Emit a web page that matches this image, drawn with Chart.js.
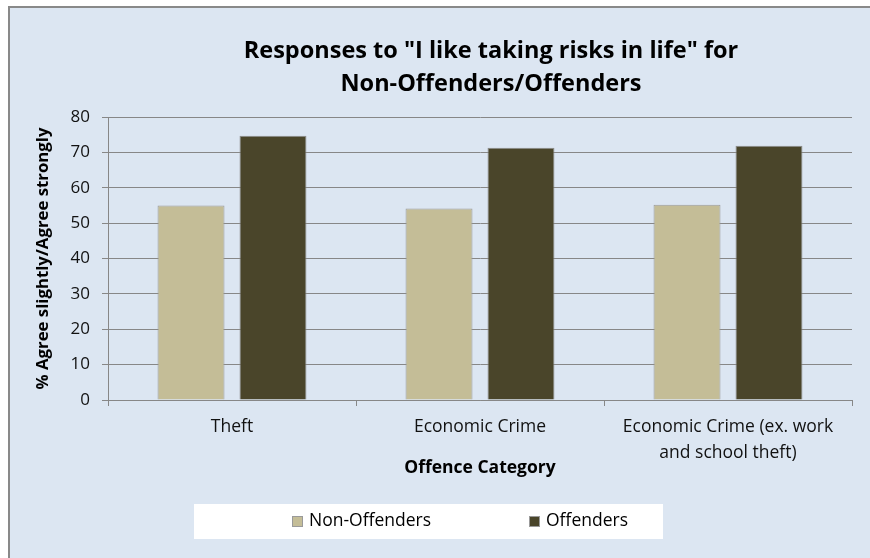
<!DOCTYPE html>
<html>
<head>
<meta charset="utf-8">
<script src="https://cdn.jsdelivr.net/npm/chart.js@4"></script>
<style>
  html, body { margin: 0; padding: 0; background: #fff; overflow: hidden; }
  #frame { position: absolute; left: 8px; top: 6px; width: 880px; height: 570px;
           border: 2px solid #898989; background: #dce6f2; }
  #chart { position: absolute; left: 0; top: 0; }
</style>
</head>
<body>
<div id="frame"></div>
<canvas id="chart" width="870" height="558"></canvas>
<script>
// data
const categories = ['Theft', 'Economic Crime', ['Economic Crime (ex. work', 'and school theft)']];
const seriesNames = ['Non-Offenders', 'Offenders'];
const nonOffenders = [55, 54.1, 55.2];
const offenders = [74.7, 71.3, 71.9];
const yTicks = [0, 10, 20, 30, 40, 50, 60, 70, 80];
const seriesColors = ['#c4bd97', '#4a452a'];

const titleLines = ['Responses to "I like taking risks in life" for', 'Non-Offenders/Offenders'];
const FONT = '"Open Sans", Lato, sans-serif';
const gridGray = '#878787';

// title drawn by hand, Excel had it off centre
const titlePlugin = {
  id: 'excelTitle',
  afterDraw(chart) {
    const c = chart.ctx;
    c.save();
    c.fillStyle = '#000';
    c.font = 'bold 23.5px ' + FONT;
    c.textAlign = 'center';
    c.textBaseline = 'middle';
    c.fillText(titleLines[0], 491, 51);
    c.fillText(titleLines[1], 491, 84);
    c.restore();
  }
};

// white legend box at the bottom
const legendPlugin = {
  id: 'excelLegend',
  afterDraw(chart) {
    const c = chart.ctx;
    c.save();
    c.fillStyle = '#fff';
    c.fillRect(194, 504, 469, 35);
    const xs = [292, 529];
    c.font = '17.5px ' + FONT;
    c.textBaseline = 'middle';
    c.textAlign = 'left';
    chart.data.datasets.forEach((ds, i) => {
      c.fillStyle = ds.backgroundColor;
      c.fillRect(xs[i], 516, 10, 10);
      c.strokeStyle = '#9a9a9a';
      c.lineWidth = 1;
      c.strokeRect(xs[i] + 0.5, 516.5, 10, 10);
      c.fillStyle = '#000';
      c.fillText(ds.label, xs[i] + 17, 521);
    });
    c.restore();
  }
};

const chart1 = new Chart(document.getElementById('chart'), {
  type: 'bar',
  data: {
    labels: categories,
    datasets: [
      { label: seriesNames[0], data: nonOffenders, backgroundColor: seriesColors[0],
        borderColor: '#9a9a9a', borderWidth: 1,
        categoryPercentage: 0.661, barPercentage: 0.817 },
      { label: seriesNames[1], data: offenders, backgroundColor: seriesColors[1],
        borderColor: '#8a8a8a', borderWidth: 1,
        categoryPercentage: 0.661, barPercentage: 0.817 }
    ]
  },
  options: {
    responsive: false,
    devicePixelRatio: 1,
    animation: false,
    layout: { padding: { left: 0, right: 18, top: 117, bottom: 56 } },
    plugins: {
      legend: { display: false },
      title: { display: false },
      tooltip: { enabled: false }
    },
    scales: {
      x: {
        grid: { drawOnChartArea: false, drawTicks: true, tickLength: 6, color: gridGray },
        border: { color: gridGray },
        ticks: { color: '#111', font: { family: FONT, size: 17.5, lineHeight: 1.5 }, padding: 8, maxRotation: 0 },
        title: { display: true, text: 'Offence Category', color: '#000',
                 font: { family: FONT, size: 17.5, weight: 'bold' }, padding: { top: 0, bottom: 23 } },
        afterFit(scale) { scale.height = 102; }
      },
      y: {
        min: 0, max: 80,
        afterBuildTicks(scale) { scale.ticks = yTicks.map(v => ({ value: v })); },
        grid: { color: gridGray, tickLength: 6 },
        border: { color: gridGray },
        ticks: { color: '#111', font: { family: FONT, size: 17 }, padding: 12 },
        title: { display: true, text: '% Agree slightly/Agree strongly', color: '#000',
                 font: { family: FONT, size: 16.8, weight: 'bold' }, padding: { top: 33, bottom: 0 } },
        afterFit(scale) { scale.width = 108; }
      }
    }
  },
  plugins: [titlePlugin, legendPlugin]
});
</script>
</body>
</html>
